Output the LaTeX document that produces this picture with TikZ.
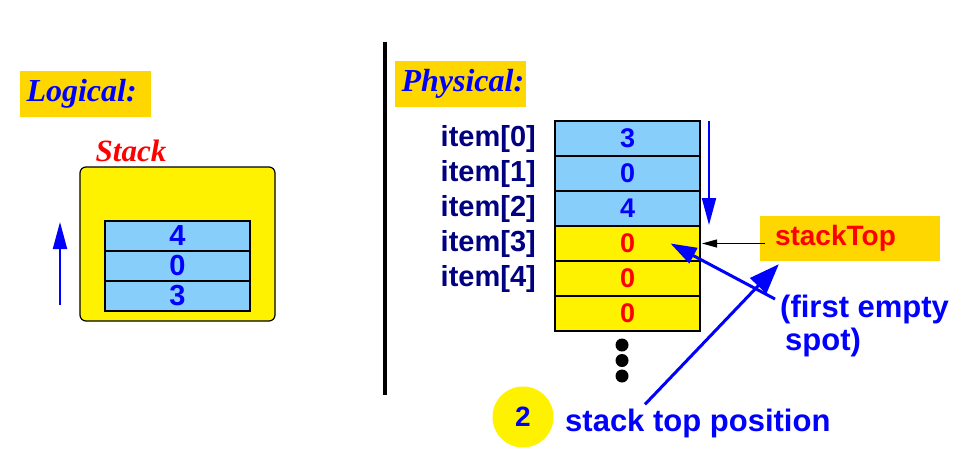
\documentclass[tikz,border=0pt]{standalone}
\usepackage{fontspec}
\setmainfont{Liberation Serif}
\newfontfamily\hv{Liberation Sans}
\usetikzlibrary{positioning,arrows.meta}

\definecolor{cellblue}{HTML}{87CEFA}
\definecolor{labelgold}{HTML}{FFD700}
\definecolor{itemnavy}{HTML}{000080}

\tikzset{
  headbox/.style={fill=labelgold,text=blue,minimum height=46pt,text width=118pt,
    inner xsep=6.5pt,align=left,font=\fontsize{32}{34}\selectfont\bfseries\itshape},
  lcell/.style={draw,line width=1.2pt,fill=cellblue,minimum width=145pt,minimum height=30pt,
    inner sep=0pt,outer sep=0pt,text=blue,font=\hv\fontsize{29}{29}\selectfont\bfseries},
  pfull/.style={draw,line width=1.2pt,fill=cellblue,minimum width=145pt,minimum height=35pt,
    inner sep=0pt,outer sep=0pt,text=blue,font=\hv\fontsize{27}{27}\selectfont\bfseries},
  pempty/.style={pfull,fill=yellow,text=red},
  itemlabel/.style={inner sep=0pt,text=itemnavy,font=\hv\fontsize{29}{29}\selectfont\bfseries},
  bluetext/.style={inner sep=0pt,text=blue,align=left,font=\hv\fontsize{31}{33}\selectfont\bfseries},
  dot/.style={circle,fill=black,inner sep=0pt,minimum size=13pt},
  thinarrow/.style={draw=blue,line width=2pt,-{Triangle[length=27pt,width=14pt]}},
  fatarrow/.style={draw=blue,line width=3pt,-{Triangle[length=30pt,width=22pt]}},
  midarrow/.style={draw=blue,line width=3pt,-{Triangle[length=26pt,width=17pt]}},
  tiparrow/.style={draw=black,line width=1pt,-{Triangle[length=15pt,width=8pt]}}
}

\begin{document}
\begin{tikzpicture}[x=1pt,y=-1pt]
\useasboundingbox (0,0) rectangle (973,461);

% logical view
\node[headbox] (logical) at (85.5,94) {Logical:};
\node[draw,line width=1.2pt,fill=yellow,rounded corners=6pt,minimum width=195pt,
  minimum height=154pt] (stackbox) at (177.5,244) {};
\node[text=red,inner sep=0pt,font=\fontsize{31}{31}\selectfont\bfseries\itshape]
  (stackname) at (131,151) {Stack};
\node[lcell] (lcell0) at (177.5,236) {4};
\node[lcell,below=0pt of lcell0] (lcell1) {0};
\node[lcell,below=0pt of lcell1] (lcell2) {3};
\coordinate (pushfrom) at (60,305);
\coordinate (pushto) at (60,222);
\draw[thinarrow] (pushfrom) -- (pushto);

% divider
\coordinate (divtop) at (385,42);
\coordinate (divbot) at (385,395);
\draw[line width=4pt] (divtop) -- (divbot);

% physical view
\node[headbox] (physical) at (460.5,84) {Physical:};
\node[pfull] (pcell0) at (627.5,138.5) {3};
\node[pfull,below=0pt of pcell0] (pcell1) {0};
\node[pfull,below=0pt of pcell1] (pcell2) {4};
\node[pempty,below=0pt of pcell2] (pcell3) {0};
\node[pempty,below=0pt of pcell3] (pcell4) {0};
\node[pempty,below=0pt of pcell4] (pcell5) {0};

\node[itemlabel,left=19pt of pcell0] (item0) {item[0]};
\node[itemlabel,left=19pt of pcell1] (item1) {item[1]};
\node[itemlabel,left=19pt of pcell2] (item2) {item[2]};
\node[itemlabel,left=19pt of pcell3] (item3) {item[3]};
\node[itemlabel,left=19pt of pcell4] (item4) {item[4]};

\node[dot] (dot0) at (622,345) {};
\node[dot] (dot1) at (622,360.5) {};
\node[dot] (dot2) at (622,376) {};

\draw[thinarrow] ([xshift=9pt]pcell0.north east) -- ([xshift=9pt,yshift=1pt]pcell2.south east);

% stack top
\node[fill=labelgold,minimum height=45pt,text width=150pt,inner xsep=15pt,align=left,
  text=red,font=\hv\fontsize{28}{28}\selectfont\bfseries] (stacktop) at (850,238.5) {stackTop};
\draw[tiparrow] ([xshift=5pt]stacktop.west |- pcell3.east) -- ([xshift=2pt]pcell3.east);

\node[bluetext,anchor=north west] (emptynote) at (780,295) {(first empty\\\hspace{5pt}spot)};
\draw[midarrow] ([xshift=-5pt,yshift=-4pt]emptynote.north west) -- ([xshift=43pt]pcell3.center);

\node[circle,fill=yellow,minimum size=61pt,inner sep=0pt,text=blue,
  font=\hv\fontsize{28}{28}\selectfont\bfseries] (stepno) at (523,417) {2};
\node[bluetext,anchor=west] (toppos) at (565,423) {stack top position};
\draw[fatarrow] ([xshift=80pt,yshift=4pt]toppos.north west) -- ([xshift=19pt,yshift=-3pt]stacktop.south west);
\end{tikzpicture}
\end{document}
